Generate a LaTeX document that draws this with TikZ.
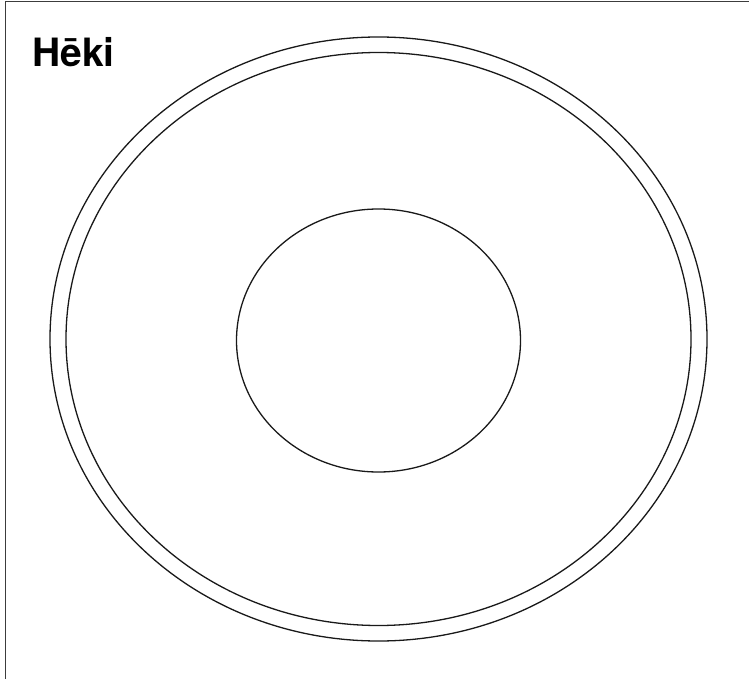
\documentclass[tikz,border=0pt]{standalone}
\usepackage{fontspec}
\setsansfont{TeX Gyre Heros}
\definecolor{framecol}{RGB}{60, 60, 60}

\begin{document}
\begin{tikzpicture}[
  x=1pt,y=-1pt,
  rim/.style={line width=1.3pt,black!90},
  edge/.style={line width=0.9pt,framecol},
  ttl/.style={font=\sffamily\bfseries\fontsize{39}{40}\selectfont,
              inner sep=0pt,anchor=base west},
]
  \useasboundingbox (0,0) rectangle (749,679);

  % --- frame ---
  \draw[edge] (749,1.5) -- (5,1.5) -- (5,679);

  % --- title ---
  \node[ttl] (title) at (32,67) {Hēki};

  % --- plate ---
  \coordinate (mid) at (378.5,339);
  \draw[rim] (mid) ellipse [x radius=328.5, y radius=302];
  \draw[rim] (mid) ellipse [x radius=312.5, y radius=286.5];
  \draw[rim] (378.5,340.5) ellipse [x radius=142, y radius=131.5];

\end{tikzpicture}
\end{document}
